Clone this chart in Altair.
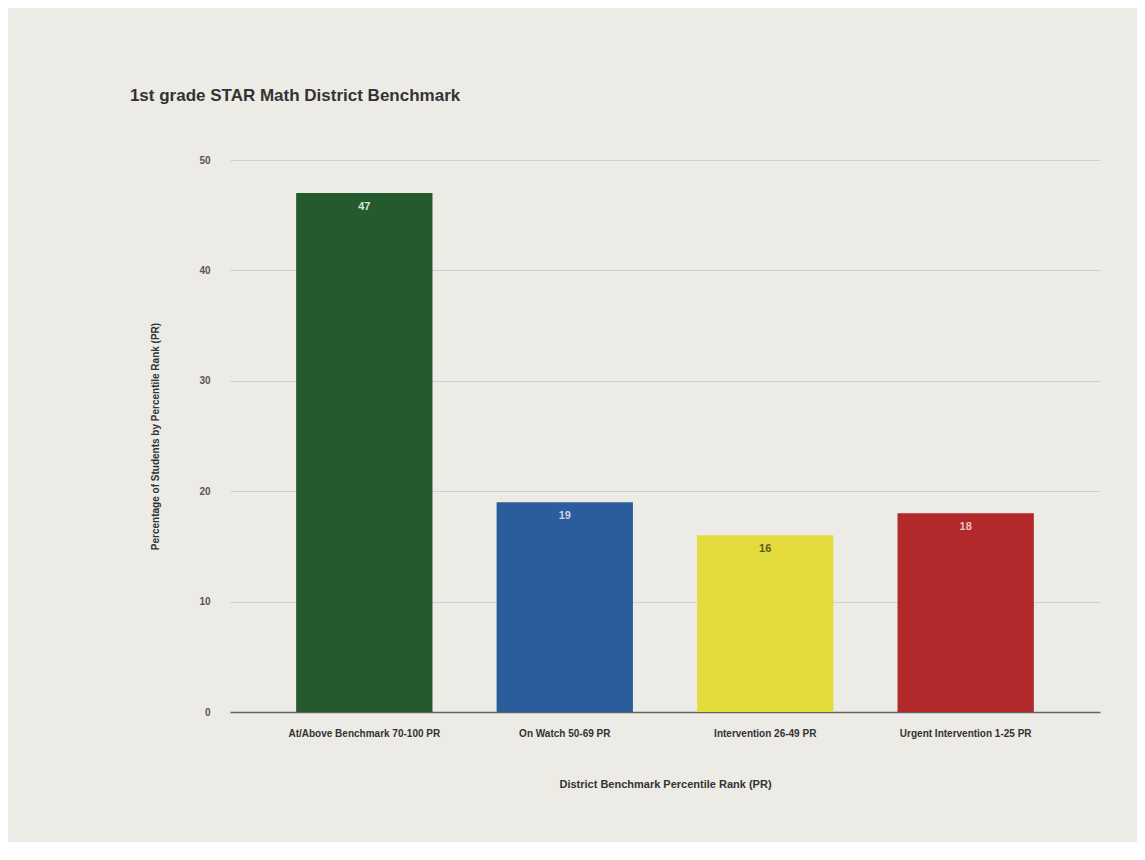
import altair as alt
import pandas as pd

categories = [
    "At/Above Benchmark 70-100 PR",
    "On Watch 50-69 PR",
    "Intervention 26-49 PR",
    "Urgent Intervention 1-25 PR",
]
values = [47, 19, 16, 18]
colors = ["#245a2e", "#2b5c9c", "#e3dc3c", "#b3282a"]
label_colors = ["#d8e6da", "#c9d6ea", "#5a5a20", "#ecc2c2"]

df = pd.DataFrame({"category": categories, "value": values,
                   "color": colors, "lcolor": label_colors})

x = alt.X("category:N", sort=categories,
          scale=alt.Scale(paddingInner=0.32, paddingOuter=0.33),
          axis=alt.Axis(title="District Benchmark Percentile Rank (PR)", labelAngle=0,
                        labelFontSize=10, labelColor="#333333", labelFontWeight="bold",
                        titleFontSize=11, titleColor="#333333", titlePadding=40,
                        ticks=False, domainColor="#666666", domainWidth=1.5, labelPadding=16))
y = alt.Y("value:Q", scale=alt.Scale(domain=[0, 50]),
          axis=alt.Axis(title="Percentage of Students by Percentile Rank (PR)",
                        values=[0, 10, 20, 30, 40, 50], labelFontSize=10,
                        labelColor="#555555", labelFontWeight="bold",
                        titleFontSize=10, titleColor="#333333", titlePadding=38,
                        ticks=False, domain=False, gridColor="#cfcfcf", labelPadding=20))

bars = alt.Chart(df).mark_bar().encode(
    x=x, y=y, color=alt.Color("color:N", scale=None))

labels = alt.Chart(df).mark_text(baseline="top", dy=8, fontSize=11, fontWeight="bold").encode(
    x=alt.X("category:N", sort=categories), y="value:Q",
    text="value:Q", color=alt.Color("lcolor:N", scale=None))

chart = (bars + labels).properties(
    width=870, height=552,
    title=alt.TitleParams("1st grade STAR Math District Benchmark", anchor="start",
                          fontSize=17, fontWeight="bold", color="#333333",
                          offset=50, dx=-21),
    autosize=alt.AutoSizeParams(type="none"),
    padding={"left": 222, "top": 152, "right": 37, "bottom": 130},
    background="#ecebe6",
).configure_view(stroke=None).configure_axis(labelFont="Liberation Sans", titleFont="Liberation Sans").configure_title(font="Liberation Sans")

chart.save("out.html", embed_options={"renderer": "svg", "actions": False})
